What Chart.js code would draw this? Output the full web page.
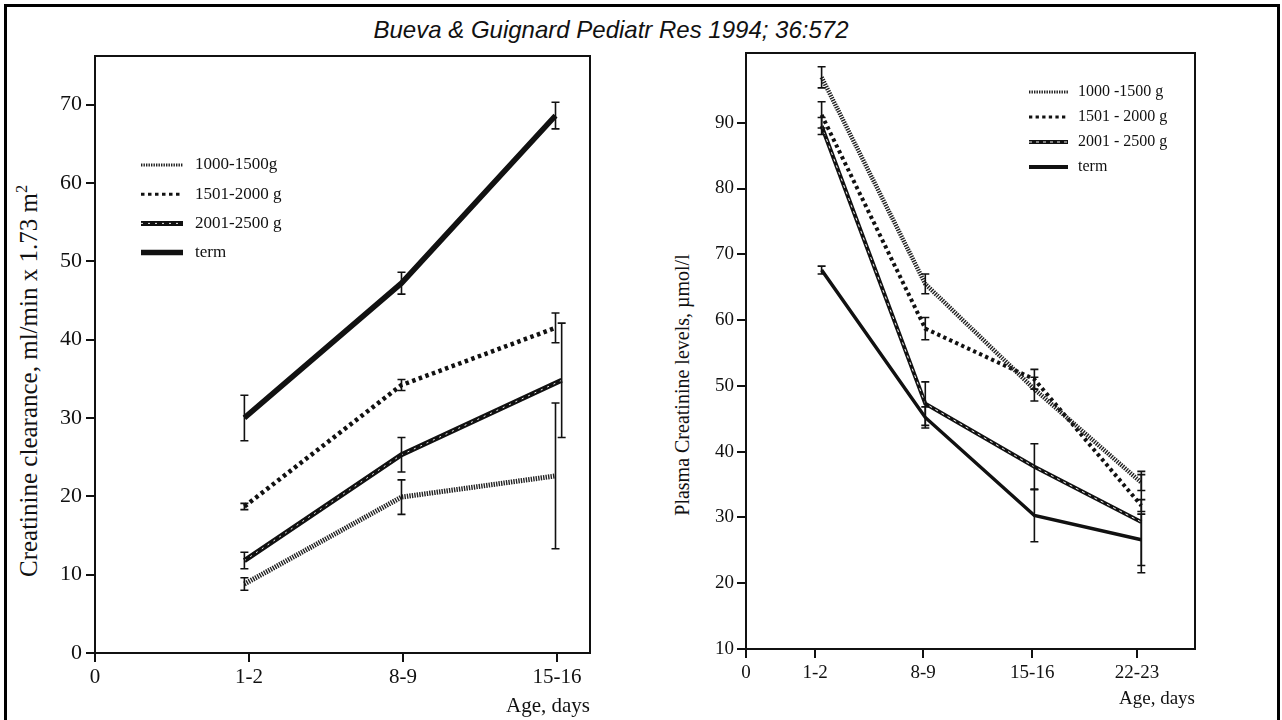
<!DOCTYPE html>
<html>
<head>
<meta charset="utf-8">
<script src="https://cdn.jsdelivr.net/npm/chart.js@4.4.0/dist/chart.umd.min.js"></script>
<style>
  html, body { margin: 0; padding: 0; background: #fff; }
  body { width: 1282px; height: 720px; position: relative; overflow: hidden; }
  .frame { position: absolute; left: 4px; top: 4px; width: 1276px; height: 730px; border: 3px solid #000; box-sizing: border-box; }
  .title { position: absolute; left: 611px; top: 30px; transform: translate(-50%, -50%);
           font: italic 24px "Liberation Sans", Arial, sans-serif; white-space: nowrap; color: #111; }
  .ytitle { position: absolute; transform: translate(-50%, -50%) rotate(-90deg);
            font-family: "Liberation Serif", "Times New Roman", serif; white-space: nowrap; color: #111; }
  .ytitle sup { font-size: 65%; }
  canvas { position: absolute; top: 0; }
</style>
</head>
<body>
<div class="frame"></div>
<div class="title">Bueva &amp; Guignard Pediatr Res 1994; 36:572</div>
<div class="ytitle" style="left:28px; top:381px; font-size:25px;">Creatinine clearance, ml/min x 1.73 m<sup>2</sup></div>
<div class="ytitle" style="left:682px; top:385px; font-size:20px;">Plasma Creatinine levels, &micro;mol/l</div>
<canvas id="clearance" width="640" height="720" style="left:0px"></canvas>
<canvas id="plasma" width="642" height="720" style="left:640px"></canvas>

<script>
// ---- left panel: creatinine clearance ----
const leftTickPos    = [0, 1, 2, 3];
const leftTickLabels = ['0', '1-2', '8-9', '15-16'];
const leftYTicks     = [0, 10, 20, 30, 40, 50, 60, 70];
const leftPointX     = [0.97, 1.99, 2.99];
const leftPointX2001 = [0.97, 1.99, 3.03];

const clr1000 = [8.8, 19.9, 22.6];   const clr1000Err = [0.8, 2.2, 9.3];
const clr1501 = [18.7, 34.2, 41.5];  const clr1501Err = [0.4, 0.7, 1.9];
const clr2001 = [11.8, 25.3, 34.8];  const clr2001Err = [1.05, 2.2, 7.3];
const clrTerm = [30.0, 47.2, 68.6];  const clrTermErr = [2.9, 1.4, 1.7];

// ---- right panel: plasma creatinine ----
const rightTickPos    = [0, 0.64, 1.64, 2.65, 3.62];
const rightTickLabels = ['0', '1-2', '8-9', '15-16', '22-23'];
const rightYTicks     = [10, 20, 30, 40, 50, 60, 70, 80, 90];
const rightPointX     = [0.70, 1.66, 2.67, 3.66];

const pl1000 = [96.9, 65.5, 49.5, 35.3]; const pl1000Err = [1.6, 1.5, 1.8, 1.2];
const pl1501 = [91.2, 58.7, 51.0, 31.8]; const pl1501Err = [2.0, 1.7, 1.5, 0.9];
const pl2001 = [89.5, 47.3, 37.7, 29.3]; const pl2001Err = [1.3, 3.3, 3.5, 7.7];
const plTerm = [67.6, 45.2, 30.3, 26.6]; const plTermErr = [0.6, 1.6, 4.0, 3.9];

const SERIF = '"Liberation Serif", "Times New Roman", serif';

function pts(xs, ys) { return ys.map((y, i) => ({ x: xs[i], y })); }

// box round the plot area (axes draw left & bottom)
const frameBox = {
  id: 'frameBox',
  afterDraw(chart) {
    const { ctx, chartArea: a } = chart;
    ctx.save();
    ctx.strokeStyle = '#111';
    ctx.lineWidth = 2;
    ctx.strokeRect(a.left, a.top, a.right - a.left, a.bottom - a.top);
    ctx.restore();
  }
};

// vertical error bars with small caps
const errorBars = {
  id: 'errorBars',
  afterDatasetsDraw(chart) {
    const ctx = chart.ctx, ys = chart.scales.y;
    ctx.save();
    ctx.strokeStyle = '#111';
    ctx.lineWidth = 1.6;
    chart.data.datasets.forEach((ds, i) => {
      if (!ds.errors) return;
      chart.getDatasetMeta(i).data.forEach((el, j) => {
        const v = ds.data[j].y, e = ds.errors[j];
        const top = ys.getPixelForValue(v + e), bot = ys.getPixelForValue(v - e);
        ctx.beginPath();
        ctx.moveTo(el.x, top); ctx.lineTo(el.x, bot);
        ctx.moveTo(el.x - 4, top); ctx.lineTo(el.x + 4, top);
        ctx.moveTo(el.x - 4, bot); ctx.lineTo(el.x + 4, bot);
        ctx.stroke();
      });
    });
    ctx.restore();
  }
};

// legend drawn inside the plot area, like the original
const insideLegend = {
  id: 'insideLegend',
  afterDraw(chart, args, o) {
    const ctx = chart.ctx;
    ctx.save();
    ctx.font = o.font;
    ctx.textBaseline = 'middle';
    ctx.fillStyle = '#111';
    let y = o.y - o.step;
    chart.data.datasets.forEach(ds => {
      if (!ds.overlay) {
        y += o.step;
        ctx.fillText(ds.label, o.x + o.len + o.gap, y);
      }
      ctx.save();
      ctx.strokeStyle = ds.borderColor;
      ctx.lineWidth = ds.legendWidth || ds.borderWidth;
      ctx.setLineDash(ds.borderDash || []);
      ctx.beginPath();
      ctx.moveTo(o.x, y); ctx.lineTo(o.x + o.len, y);
      ctx.stroke();
      ctx.restore();
    });
    ctx.restore();
  }
};

function lineDs(label, xs, ys, errs, style) {
  return Object.assign({
    label, data: pts(xs, ys), errors: errs,
    borderColor: '#111', borderWidth: 4, pointRadius: 0, tension: 0, fill: false
  }, style);
}

function axisOpts(cfg) {
  return {
    type: 'linear', min: cfg.min, max: cfg.max,
    afterBuildTicks: s => { s.ticks = cfg.pos.map(v => ({ value: v })); },
    afterFit: s => { if (cfg.width) s.width = cfg.width; if (cfg.height) s.height = cfg.height; },
    border: { display: true, color: '#111', width: 2 },
    grid: { drawOnChartArea: false, drawTicks: true, tickLength: 9, color: '#111', lineWidth: 2 },
    ticks: {
      color: '#111', font: { family: SERIF, size: cfg.fontSize }, padding: cfg.pad,
      autoSkip: false, maxRotation: 0,
      callback: (v, i) => cfg.labels ? cfg.labels[i] : v
    },
    title: cfg.title ? {
      display: true, text: cfg.title, align: 'end', color: '#111',
      font: { family: SERIF, size: cfg.titleSize }, padding: { top: 0, bottom: cfg.titlePad }
    } : { display: false }
  };
}

new Chart(document.getElementById('clearance'), {
  type: 'line',
  data: {
    datasets: [
      lineDs('1000-1500g', leftPointX, clr1000, clr1000Err, { borderColor: '#222', borderWidth: 5, borderDash: [1.4, 1.1], legendWidth: 3 }),
      lineDs('1501-2000 g', leftPointX, clr1501, clr1501Err, { borderWidth: 4.5, borderDash: [3.5, 3.5], legendWidth: 3 }),
      lineDs('2001-2500 g', leftPointX2001, clr2001, clr2001Err, { borderWidth: 5 }),
      // white specks inside the black line, drawn on top
      lineDs('', leftPointX2001, clr2001, null, { overlay: true, order: -1, borderColor: '#eee', borderWidth: 1, borderDash: [2, 5] }),
      lineDs('term', leftPointX, clrTerm, clrTermErr, { borderWidth: 5.5 })
    ]
  },
  options: {
    responsive: false, animation: false,
    layout: { padding: { left: 0, top: 56, right: 50, bottom: 0 } },
    plugins: {
      legend: { display: false }, tooltip: { enabled: false },
      insideLegend: { x: 141, y: 165, step: 29.2, len: 42, gap: 12, font: '17px ' + SERIF }
    },
    scales: {
      x: axisOpts({ min: 0, max: 3.214, pos: leftTickPos, labels: leftTickLabels, height: 67,
                    fontSize: 21, pad: 3, title: 'Age, days', titleSize: 21, titlePad: 1 }),
      y: axisOpts({ min: 0, max: 76.2, pos: leftYTicks, width: 95, fontSize: 22, pad: 4 })
    }
  },
  plugins: [frameBox, errorBars, insideLegend]
});

new Chart(document.getElementById('plasma'), {
  type: 'line',
  data: {
    datasets: [
      lineDs('1000 -1500 g', rightPointX, pl1000, pl1000Err, { borderColor: '#222', borderWidth: 4.5, borderDash: [1.4, 1.1], legendWidth: 3 }),
      lineDs('1501 - 2000 g', rightPointX, pl1501, pl1501Err, { borderWidth: 4, borderDash: [3.3, 3.3], legendWidth: 3 }),
      lineDs('2001 - 2500 g', rightPointX, pl2001, pl2001Err, { borderWidth: 4 }),
      lineDs('', rightPointX, pl2001, null, { overlay: true, order: -1, borderColor: '#eee', borderWidth: 1, borderDash: [3, 4] }),
      lineDs('term', rightPointX, plTerm, plTermErr, { borderWidth: 3.5, legendWidth: 4 })
    ]
  },
  options: {
    responsive: false, animation: false,
    layout: { padding: { left: 0, top: 53, right: 87, bottom: 0 } },
    plugins: {
      legend: { display: false }, tooltip: { enabled: false },
      insideLegend: { x: 389, y: 92, step: 25, len: 39, gap: 10, font: '16px ' + SERIF }
    },
    scales: {
      x: axisOpts({ min: 0, max: 4.157, pos: rightTickPos, labels: rightTickLabels, height: 71,
                    fontSize: 19, pad: 4, title: 'Age, days', titleSize: 19, titlePad: 10 }),
      y: axisOpts({ min: 10, max: 100.6, pos: rightYTicks, width: 106, fontSize: 19, pad: 3 })
    }
  },
  plugins: [frameBox, errorBars, insideLegend]
});
</script>
</body>
</html>
